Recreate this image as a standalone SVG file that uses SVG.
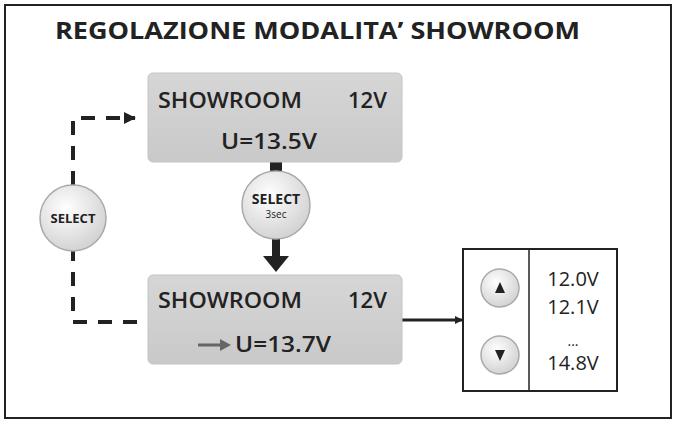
<svg xmlns="http://www.w3.org/2000/svg" width="676" height="426" viewBox="0 0 676 426">
<defs>
<linearGradient id="bx" x1="0" y1="0" x2="0" y2="1"><stop offset="0" stop-color="#d6d6d6"/><stop offset="1" stop-color="#c9c9c9"/></linearGradient>
<radialGradient id="bt" cx="0.4" cy="0.35" r="0.7"><stop offset="0" stop-color="#ffffff"/><stop offset="1" stop-color="#d0d0d0"/></radialGradient>
<marker id="ah" markerWidth="8" markerHeight="8" refX="7" refY="4" orient="auto" markerUnits="userSpaceOnUse"><path d="M0,0 L8,4 L0,8 Z" fill="#222"/></marker>
<marker id="ah2" markerWidth="12" markerHeight="12" refX="11" refY="6" orient="auto" markerUnits="userSpaceOnUse"><path d="M0,0 L12,6 L0,12 Z" fill="#222"/></marker>
</defs>
<style>
.t{font-family:"Open Sans","DejaVu Sans",sans-serif;fill:#222}
.s{font-family:"Open Sans","DejaVu Sans",sans-serif;font-weight:600;fill:#222}
.b{font-family:"Open Sans","DejaVu Sans",sans-serif;font-weight:bold;fill:#222}
.box{fill:url(#bx);stroke:#c4c4c4}
.btn{fill:url(#bt);stroke:#aaa;stroke-width:1.5}
.d{fill:none;stroke:#222;stroke-width:4;stroke-dasharray:14,11}
</style>
<rect x="5" y="5" width="666" height="413" fill="#fff" stroke="#222" stroke-width="2"/>
<text class="b" x="55" y="39" font-size="24" textLength="525" lengthAdjust="spacingAndGlyphs">REGOLAZIONE MODALITA’ SHOWROOM</text>
<g id="connectors">
<path class="d" d="M73,185 V118 H130"/>
<path d="M130,118 H135" stroke="#222" stroke-width="4" marker-end="url(#ah2)"/>
<path class="d" d="M73,251 V322 H148" stroke-dashoffset="4"/>
<rect x="270" y="162" width="12" height="12" fill="#222"/>
<path d="M276,238 V258" stroke="#222" stroke-width="8"/>
<path d="M263,256 H289 L276,272 Z" fill="#222"/>
<path d="M402,320 H462" stroke="#222" stroke-width="3" marker-end="url(#ah)"/>
</g>
<g id="box1"><rect class="box" x="148" y="73" width="254" height="89" rx="5"/>
<text class="s" x="158" y="108" font-size="22" textLength="144" lengthAdjust="spacingAndGlyphs">SHOWROOM</text><text class="s" x="348" y="108" font-size="22">12V</text>
<text class="s" x="221" y="149" font-size="22" textLength="96" lengthAdjust="spacingAndGlyphs">U=13.5V</text></g>
<g id="box2"><rect class="box" x="148" y="275" width="254" height="89" rx="5"/>
<text class="s" x="158" y="308" font-size="22" textLength="144" lengthAdjust="spacingAndGlyphs">SHOWROOM</text><text class="s" x="348" y="308" font-size="22">12V</text>
<path d="M198,345 H222" stroke="#666" stroke-width="3"/><path d="M220,339 L231,345 L220,351 Z" fill="#666"/>
<text class="s" x="235" y="352" font-size="22" textLength="96" lengthAdjust="spacingAndGlyphs">U=13.7V</text></g>
<g id="select1"><circle class="btn" cx="73" cy="218" r="33"/><text class="b" x="73" y="223" font-size="13" text-anchor="middle">SELECT</text></g>
<g id="select2"><circle class="btn" cx="276" cy="205" r="34"/><text class="b" x="276" y="204" font-size="14" text-anchor="middle">SELECT</text><text class="t" x="276" y="218" font-size="10" text-anchor="middle">3sec</text></g>
<g id="list"><rect x="463" y="249" width="154" height="142" fill="#fff" stroke="#222" stroke-width="2"/>
<line x1="529" y1="249" x2="529" y2="391" stroke="#222" stroke-width="1.5"/>
<circle class="btn" cx="500" cy="288" r="19"/><path d="M495,293 L500,282 L505,293 Z" fill="#222"/>
<circle class="btn" cx="500" cy="355" r="19"/><path d="M495,350 L500,361 L505,350 Z" fill="#222"/>
<g class="t" font-size="20" text-anchor="middle"><text x="573" y="286">12.0V</text><text x="573" y="314">12.1V</text><text x="573" y="346" font-size="14">...</text><text x="573" y="370">14.8V</text></g></g>
</svg>
